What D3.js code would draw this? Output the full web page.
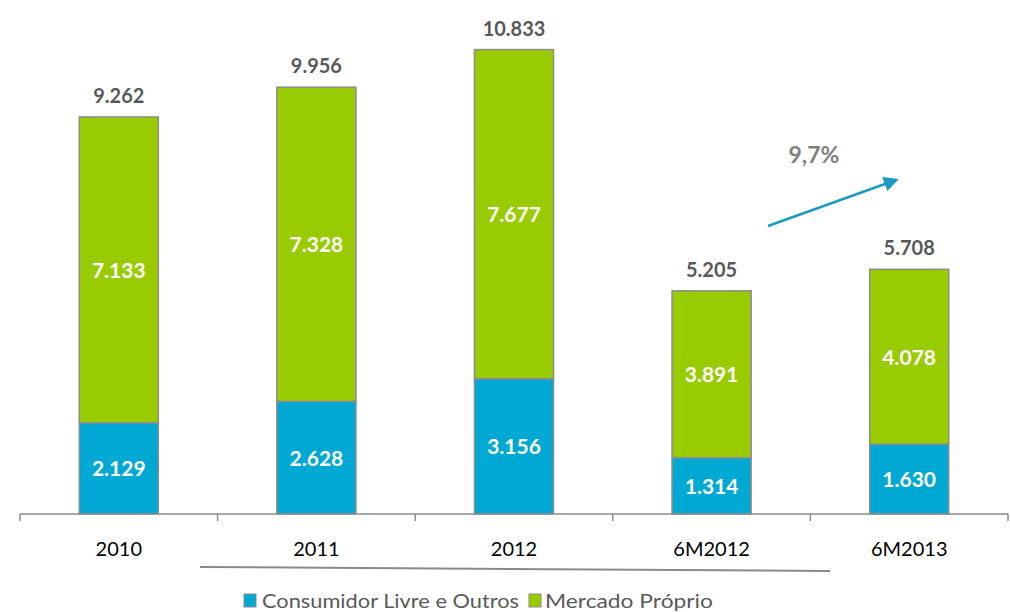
<!DOCTYPE html>
<html><head><meta charset="utf-8">
<script src="https://cdn.jsdelivr.net/npm/d3@7"></script>
<style>body{margin:0;background:#fff}svg{display:block}text{font-family:Lato,"Open Sans",sans-serif}</style>
</head><body>
<svg id="c" width="1010" height="612"></svg>
<script>
const categories = ["2010","2011","2012","6M2012","6M2013"];
const consumidor = [2129, 2628, 3156, 1314, 1630];
const mercado = [7133, 7328, 7677, 3891, 4078];
const totals = [9262, 9956, 10833, 5205, 5708];
const seriesNames = ["Consumidor Livre e Outros", "Mercado Próprio"];
const growthLabel = "9,7%";

const colors = ["#00A8D4", "#99CC00"];
const svg = d3.select("#c");
const x = d3.scaleBand().domain(categories).range([20, 1008]).paddingInner(0.6).paddingOuter(0.3);
const y = d3.scaleLinear().domain([0, 11990]).range([514, 0]);
const fmt = v => d3.format(",")(v).replace(/,/g, ".");

const data = categories.map((c, i) => ({c, a: consumidor[i], b: mercado[i], t: totals[i]}));
const g = svg.append("g");
data.forEach(d => {
  const bx = x(d.c), bw = x.bandwidth();
  g.append("rect").attr("x", bx).attr("width", bw).attr("y", y(d.a)).attr("height", y(0) - y(d.a))
    .attr("fill", colors[0]).attr("stroke", "#8c8c8c").attr("stroke-width", 1.5);
  g.append("rect").attr("x", bx).attr("width", bw).attr("y", y(d.a + d.b)).attr("height", y(d.a) - y(d.a + d.b))
    .attr("fill", colors[1]).attr("stroke", "#8c8c8c").attr("stroke-width", 1.5);
  g.append("text").attr("x", bx + bw / 2).attr("y", (y(0) + y(d.a)) / 2 + 8).attr("text-anchor", "middle")
    .attr("fill", "#fff").attr("font-weight", "bold").attr("font-size", 21).text(fmt(d.a));
  g.append("text").attr("x", bx + bw / 2).attr("y", (y(d.a) + y(d.a + d.b)) / 2 + 8).attr("text-anchor", "middle")
    .attr("fill", "#fff").attr("font-weight", "bold").attr("font-size", 21).text(fmt(d.b));
  g.append("text").attr("x", bx + bw / 2).attr("y", y(d.t) - 14).attr("text-anchor", "middle")
    .attr("fill", "#595959").attr("font-weight", "bold").attr("font-size", 20).text(fmt(d.t));
});

// axis
const ax = svg.append("g");
ax.append("line").attr("x1", 20).attr("x2", 1008).attr("y1", 514).attr("y2", 514).attr("stroke", "#8c8c8c").attr("stroke-width", 1.5);
const bounds = d3.range(categories.length + 1).map(i => 20 + i * (988 / categories.length));
bounds.forEach(b => ax.append("line").attr("x1", b).attr("x2", b).attr("y1", 514).attr("y2", 521).attr("stroke", "#8c8c8c").attr("stroke-width", 1.5));
categories.forEach(c => ax.append("text").attr("x", x(c) + x.bandwidth() / 2).attr("y", 556).attr("text-anchor", "middle")
  .attr("font-size", 20).attr("fill", "#000").text(c));

// bottom decorative line
svg.append("line").attr("x1", 200).attr("y1", 567).attr("x2", 830).attr("y2", 571).attr("stroke", "#8a8a8a").attr("stroke-width", 2);

// growth arrow
svg.append("defs").append("marker").attr("id", "ah").attr("viewBox", "0 0 10 10").attr("refX", 8).attr("refY", 5)
  .attr("markerWidth", 6).attr("markerHeight", 6).attr("orient", "auto")
  .append("path").attr("d", "M0,0L10,5L0,10Z").attr("fill", "#1A9BC4");
svg.append("line").attr("x1", 768).attr("y1", 226).attr("x2", 896).attr("y2", 180)
  .attr("stroke", "#1A9BC4").attr("stroke-width", 2.5).attr("marker-end", "url(#ah)");
svg.append("text").attr("x", 814).attr("y", 163).attr("text-anchor", "middle").attr("font-size", 23)
  .attr("font-weight", "bold").attr("fill", "#808080").text(growthLabel);

// legend
const lg = svg.append("g");
const legendPos = [{sx: 244, tx: 262, len: 257}, {sx: 529, tx: 545, len: 168}];
seriesNames.forEach((n, i) => {
  const p = legendPos[i];
  lg.append("rect").attr("x", p.sx).attr("y", 594).attr("width", 12).attr("height", 13).attr("fill", colors[i]).attr("stroke", "#8c8c8c");
  lg.append("text").attr("x", p.tx).attr("y", 608).attr("font-size", 20).attr("fill", "#595959")
    .attr("textLength", p.len).attr("lengthAdjust", "spacingAndGlyphs").text(n);
});
</script>
</body></html>
